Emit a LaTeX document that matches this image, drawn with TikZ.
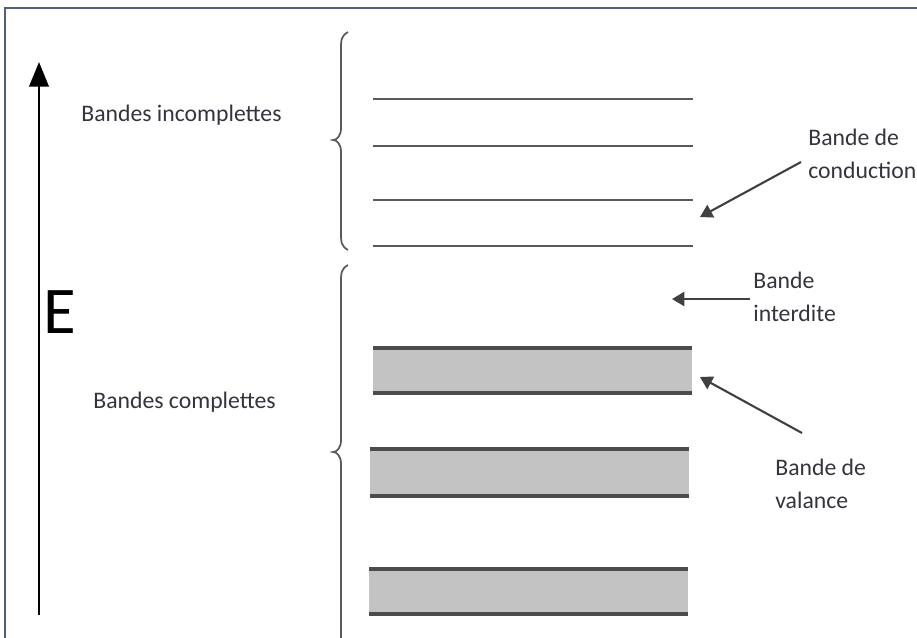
\documentclass[tikz,border=0pt]{standalone}
\usepackage{fontspec}
\setmainfont{Carlito}
\usetikzlibrary{arrows.meta}
\definecolor{framecol}{HTML}{4F5F7F}
\definecolor{bandfill}{HTML}{C3C3C3}
\definecolor{levelcol}{HTML}{5A5A5A}
\definecolor{textcol}{HTML}{34343E}
\tikzset{>/.tip={Triangle[length=7pt, width=8pt]},
  level/.style={draw=levelcol, line width=1.5pt},
  band/.style={fill=bandfill, draw=none},
  lbl/.style={text=textcol, font=\fontsize{13.5}{19}\selectfont, align=left, inner sep=0pt, anchor=west},
  ptr/.style={draw=black!75, line width=1.2pt, ->}}
% brace at x=333..348: #1 top, #2 tip, #3 bottom
\newcommand{\bandbrace}[3]{%
  \draw[levelcol, line width=1pt] (348,#1) .. controls (341,#1+4) and (341,#1+8) .. (341,#1+18)
    -- (341,#2-12) .. controls (341,#2-4) and (337,#2) .. (333,#2)
    .. controls (337,#2) and (341,#2+4) .. (341,#2+12)
    -- (341,#3-18) .. controls (341,#3-8) and (341,#3-4) .. (348,#3);}
% filled band: #1 left, #2 right, #3 top, #4 bottom
\newcommand{\fullband}[4]{%
  \fill[bandfill] (#1,#3) rectangle (#2,#4);
  \draw[level, draw=levelcol!85!black, line width=1.8pt] (#1,#3) -- (#2,#3);
  \draw[level, draw=levelcol!85!black, line width=1.8pt] (#1,#4) -- (#2,#4);}

\begin{document}
\begin{tikzpicture}[x=0.02cm, y=-0.02cm]
\useasboundingbox (0,0) rectangle (917,637);
\draw[framecol, line width=1.2pt] (5,660) -- (5,8) -- (940,8);

% energy axis
\coordinate (ebot) at (39,615);
\coordinate (etop) at (39,62);
\draw[-{Triangle[length=14pt, width=11pt]}, line width=1.7pt] (ebot) -- (etop);
\node[inner sep=0pt, font=\fontsize{38}{38}\selectfont] (E) at (60,312) {E};

\node[lbl] (incomp) at (81,115) {Bandes incomplettes};
\node[lbl] (comp) at (93,402) {Bandes complettes};

% braces
\bandbrace{32}{140}{250}
\bandbrace{265}{452}{650}

% incomplete bands
\foreach \y in {99,146,200,246}
  \draw[level] (373,\y) -- (693,\y);

% complete bands
\fullband{373}{692}{348}{393}
\fullband{370}{689}{449}{496}
\fullband{369}{688}{569}{614}

% labels and pointers
\node[lbl] (conduc) at (808,154) {Bande de\\conduction};
\node[lbl] (interd) at (753,297) {Bande\\interdite};
\node[lbl] (valan) at (775,484) {Bande de\\valance};

\coordinate (condtail) at (801,162);
\coordinate (condtip) at (700,217);
\coordinate (gaptail) at (750,299);
\coordinate (gaptip) at (672,299);
\coordinate (valtail) at (802,433);
\coordinate (valtip) at (700,377);

\draw[ptr] (condtail) -- (condtip);
\draw[ptr] (gaptail) -- (gaptip);
\draw[ptr] (valtail) -- (valtip);
\end{tikzpicture}
\end{document}
